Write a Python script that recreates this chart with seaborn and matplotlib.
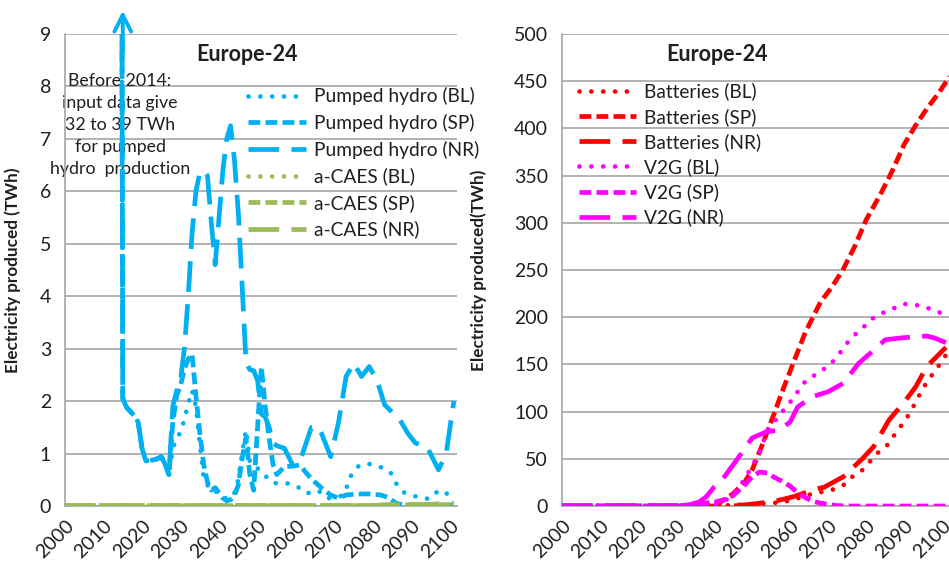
import numpy as np
import pandas as pd
import matplotlib
matplotlib.use("Agg")
import matplotlib.pyplot as plt
import seaborn as sns

# ---------------- data: left panel (TWh) ----------------
ph_early_years = [2000, 2005, 2010, 2014, 2015, 2016, 2017, 2018, 2019, 2020,
                  2021, 2022, 2023, 2024, 2025, 2026, 2027]
ph_early_bl = [33, 34, 35, 33, 2.05, 1.88, 1.8, 1.72, 1.6, 1.1, 0.86, 0.87, 0.88, 0.9, 0.94, 0.8, 0.6]
ph_early_sp = [36, 37, 37, 36, 2.05, 1.88, 1.8, 1.72, 1.6, 1.1, 0.86, 0.87, 0.88, 0.9, 0.94, 0.8, 0.6]
ph_early_nr = [39, 38, 39, 39, 2.05, 1.88, 1.8, 1.72, 1.6, 1.1, 0.86, 0.87, 0.88, 0.9, 0.94, 0.8, 0.6]

ph_bl_years = [2028, 2029, 2030, 2031, 2032, 2033, 2034, 2035, 2036, 2037, 2038, 2039,
               2040, 2041, 2042, 2043, 2044, 2045, 2046, 2047, 2048, 2049, 2050, 2051,
               2052, 2053, 2054, 2056, 2058, 2060, 2062, 2063, 2065, 2066, 2068, 2070,
               2072, 2073, 2074, 2076, 2078, 2080, 2082, 2084, 2085, 2086, 2088, 2090,
               2092, 2094, 2095, 2097, 2099, 2101]
ph_bl_vals = [1.1, 1.3, 1.4, 1.65, 1.95, 2.2, 1.9, 1.2, 0.55, 0.4, 0.3, 0.3,
              0.2, 0.15, 0.15, 0.15, 0.25, 0.5, 1.0, 1.45, 0.85, 0.75, 0.72, 0.65,
              0.58, 0.5, 0.44, 0.43, 0.43, 0.38, 0.3, 0.24, 0.3, 0.28, 0.15, 0.15,
              0.2, 0.32, 0.55, 0.75, 0.81, 0.79, 0.74, 0.67, 0.6, 0.43, 0.26, 0.2,
              0.17, 0.14, 0.15, 0.3, 0.24, 0.2]

ph_sp_years = [2028, 2029, 2030, 2031, 2032, 2033, 2034, 2035, 2036, 2037, 2038, 2039,
               2040, 2041, 2042, 2043, 2044, 2045, 2046, 2047, 2048, 2049, 2050, 2051,
               2052, 2053, 2054, 2055, 2057, 2059, 2061, 2063, 2065, 2067, 2069, 2071,
               2073, 2076, 2079, 2082, 2084, 2086, 2088, 2101]
ph_sp_vals = [1.6, 2.1, 2.3, 2.6, 2.8, 2.9, 2.1, 1.4, 0.8, 0.45, 0.3, 0.35,
              0.25, 0.15, 0.1, 0.12, 0.2, 0.4, 0.9, 1.3, 0.6, 0.3, 1.5, 2.65,
              1.9, 1.3, 0.8, 0.6, 0.75, 0.76, 0.78, 0.6, 0.45, 0.32, 0.21, 0.15,
              0.21, 0.23, 0.23, 0.21, 0.16, 0.05, 0.02, 0.02]

ph_nr_years = [2028, 2029, 2030, 2031, 2032, 2033, 2034, 2035, 2036, 2037, 2038, 2039,
               2040, 2041, 2042, 2043, 2044, 2045, 2046, 2047, 2048, 2049, 2050, 2051,
               2052, 2053, 2054, 2055, 2057, 2059, 2061, 2064, 2066, 2069, 2071, 2073,
               2075, 2077, 2079, 2081, 2083, 2087, 2089, 2091, 2094, 2097, 2099, 2100, 2101]
ph_nr_vals = [1.9, 2.2, 2.4, 3.0, 4.0, 5.2, 6.0, 6.35, 6.4, 6.3, 5.4, 4.6,
              5.5, 6.4, 7.0, 7.25, 6.6, 5.6, 4.2, 2.75, 2.6, 2.58, 2.4, 1.75,
              1.7, 1.5, 1.2, 1.15, 1.1, 0.8, 0.85, 1.5, 1.5, 0.94, 1.58, 2.47,
              2.72, 2.47, 2.66, 2.4, 1.93, 1.64, 1.39, 1.2, 1.13, 0.69, 1.0, 1.51, 2.0]

caes_years = [2000, 2020, 2040, 2060, 2080, 2085, 2090, 2095, 2098, 2101]
caes_bl = [0.01, 0.01, 0.01, 0.01, 0.01, 0.01, 0.01, 0.01, 0.01, 0.01]
caes_sp = [0.01, 0.01, 0.01, 0.01, 0.01, 0.02, 0.02, 0.02, 0.02, 0.02]
caes_nr = [0.01, 0.01, 0.01, 0.01, 0.01, 0.03, 0.03, 0.03, 0.05, 0.05]

# ---------------- data: right panel (TWh) ----------------
bat_bl_years = [2000, 2040, 2045, 2050, 2055, 2058, 2061, 2066, 2071, 2074, 2076, 2079,
                2083, 2086, 2088, 2090, 2092, 2093, 2095, 2097, 2099, 2101]
bat_bl_vals = [0, 0, 1, 2, 3, 4, 7, 13, 17, 22, 30, 38,
               56, 66, 79, 89, 102, 110, 125, 137, 148, 160]

bat_sp_years = [2000, 2038, 2040, 2042, 2045, 2048, 2050, 2053, 2056, 2058, 2061, 2064,
                2068, 2071, 2074, 2077, 2080, 2084, 2087, 2090, 2093, 2096, 2099, 2102]
bat_sp_vals = [0, 0, 2, 5, 13, 25, 38, 68, 100, 122, 153, 184,
               216, 232, 251, 275, 303, 332, 356, 383, 403, 421, 437, 455]

bat_nr_years = [2000, 2045, 2050, 2054, 2057, 2061, 2066, 2069, 2074, 2079, 2082, 2086,
                2090, 2093, 2096, 2099, 2101]
bat_nr_vals = [0, 0, 2, 4, 6, 10, 17, 20, 31, 50, 63, 91, 110, 126, 148, 160, 168]

v2g_bl_years = [2000, 2038, 2040, 2042, 2045, 2047, 2050, 2052, 2054, 2056, 2058, 2060,
                2062, 2064, 2067, 2070, 2072, 2074, 2076, 2079, 2081, 2084, 2087, 2090,
                2093, 2096, 2100]
v2g_bl_vals = [0, 0.5, 1, 3, 12, 22, 42, 57, 80, 90, 100, 110,
               121, 132, 140, 148, 156, 167, 178, 188, 197, 204, 209, 214,
               213, 210, 204]

v2g_sp_years = [2000, 2030, 2035, 2040, 2043, 2045, 2048, 2050, 2052, 2054, 2056, 2058,
                2060, 2062, 2064, 2066, 2068, 2072, 2075, 2101]
v2g_sp_vals = [0, 0, 2, 4, 7, 11, 22, 31, 36, 35, 30, 26, 21, 14, 9, 5, 3, 0.5, 0, 0]

v2g_nr_years = [2000, 2030, 2034, 2036, 2038, 2040, 2042, 2046, 2050, 2054, 2057, 2060,
                2062, 2066, 2070, 2074, 2078, 2082, 2085, 2089, 2092, 2096, 2098, 2101]
v2g_nr_vals = [0.5, 0.5, 2, 4, 10, 20, 27, 49, 72, 79, 80, 89,
               105, 116, 121, 130, 151, 165, 176, 178, 179, 180, 178, 173]

tick_years = list(range(2000, 2101, 10))
left_yticks = list(range(0, 10))
right_yticks = list(range(0, 501, 50))

# ---------------- style ----------------
sns.set_theme(style="white")
plt.rcParams["font.family"] = ["Lato", "DejaVu Sans"]
TXT = "#1F1F1F"
GRID = "#A6A6A6"
BLUE = "#00B0F0"
GREEN = "#9BBB59"
RED = "#FF0000"
MAG = "#FF00FF"
LW = 3.4
DOT = (0, (0.01, 2.5))
DASH = (0, (2.5, 1.1))
LONG = (0, (6.5, 2.6))

fig = plt.figure(figsize=(9.49, 5.69), dpi=100)
axL = fig.add_axes([65 / 949, 1 - 506 / 569, (457 - 65) / 949, 472 / 569])
axR = fig.add_axes([562 / 949, 1 - 506 / 569, (949 - 562) / 949, 472 / 569])


def draw(ax, years, vals, color, ls, label):
    df = pd.DataFrame({"year": years, "value": vals})
    sns.lineplot(data=df, x="year", y="value", ax=ax, color=color, linewidth=LW,
                 linestyle=ls, label=label, dash_capstyle="round" if ls is DOT else "butt",
                 solid_capstyle="butt", zorder=3)


draw(axL, ph_early_years + ph_bl_years, ph_early_bl + ph_bl_vals, BLUE, DOT, "Pumped hydro (BL)")
draw(axL, ph_early_years + ph_sp_years, ph_early_sp + ph_sp_vals, BLUE, DASH, "Pumped hydro (SP)")
draw(axL, ph_early_years + ph_nr_years, ph_early_nr + ph_nr_vals, BLUE, LONG, "Pumped hydro (NR)")
draw(axL, caes_years, caes_bl, GREEN, DOT, "a-CAES (BL)")
draw(axL, caes_years, caes_sp, GREEN, DASH, "a-CAES (SP)")
draw(axL, caes_years, caes_nr, GREEN, LONG, "a-CAES (NR)")

draw(axR, bat_bl_years, bat_bl_vals, RED, DOT, "Batteries (BL)")
draw(axR, bat_sp_years, bat_sp_vals, RED, DASH, "Batteries (SP)")
draw(axR, bat_nr_years, bat_nr_vals, RED, LONG, "Batteries (NR)")
draw(axR, v2g_bl_years, v2g_bl_vals, MAG, DOT, "V2G (BL)")
draw(axR, v2g_sp_years, v2g_sp_vals, MAG, DASH, "V2G (SP)")
draw(axR, v2g_nr_years, v2g_nr_vals, MAG, LONG, "V2G (NR)")

for ax, yt, ylim, ylab, lx in [(axL, left_yticks, 9, "Electricity produced (TWh)", -0.112),
                               (axR, right_yticks, 500, "Electricity produced(TWh)", -0.195)]:
    ax.set_xlim(2000, 2101.8)
    ax.set_ylim(0, ylim)
    ax.set_xticks(tick_years)
    ax.set_xticklabels([str(t) for t in tick_years], rotation=45, ha="right",
                       va="top", rotation_mode="anchor")
    ax.set_yticks(yt)
    ax.tick_params(axis="both", colors=GRID, labelcolor=TXT, labelsize=14,
                   direction="out", length=6, width=1)
    ax.tick_params(axis="x", length=5, pad=3)
    ax.tick_params(axis="y", pad=4)
    ax.grid(axis="y", color=GRID, linewidth=1.2, zorder=0)
    ax.grid(axis="x", visible=False)
    for s in ["top", "right"]:
        ax.spines[s].set_visible(False)
    for s in ["left", "bottom"]:
        ax.spines[s].set_color(GRID)
        ax.spines[s].set_linewidth(1.2)
    ax.set_xlabel("")
    ax.set_ylabel(ylab, fontsize=12.3, fontweight="bold", color=TXT)
    ax.yaxis.set_label_coords(lx, 0.5)
    ax.set_facecolor("white")

axL.set_title("Europe-24", x=0.464, y=0.925, fontsize=15.5, fontweight="bold", color=TXT)
axR.set_title("Europe-24", x=0.40, y=0.925, fontsize=15.5, fontweight="bold", color=TXT)

legL = axL.legend(loc="upper left", bbox_to_anchor=(0.468, 0.887), frameon=False,
                  fontsize=13.8, handlelength=3.0, handletextpad=0.4, labelspacing=0.45,
                  borderpad=0, borderaxespad=0)
legR = axR.legend(loc="upper left", bbox_to_anchor=(0.043, 0.897), frameon=False,
                  fontsize=13.8, handlelength=3.0, handletextpad=0.4, labelspacing=0.38,
                  borderpad=0, borderaxespad=0)
for leg in (legL, legR):
    for t in leg.get_texts():
        t.set_color(TXT)

axL.text(2014.3, 7.27, "Before 2014:\ninput data give\n32 to 39 TWh\nfor pumped\nhydro  production",
         ha="center", va="center", fontsize=12.8, color=TXT, linespacing=1.46, zorder=2)

axL.annotate("", xy=(2015, 9.5), xytext=(2015, 8.6),
             arrowprops=dict(arrowstyle="->", color=BLUE, lw=2.8, mutation_scale=30),
             annotation_clip=False)

fig.savefig("out.png", dpi=100, facecolor="white")
